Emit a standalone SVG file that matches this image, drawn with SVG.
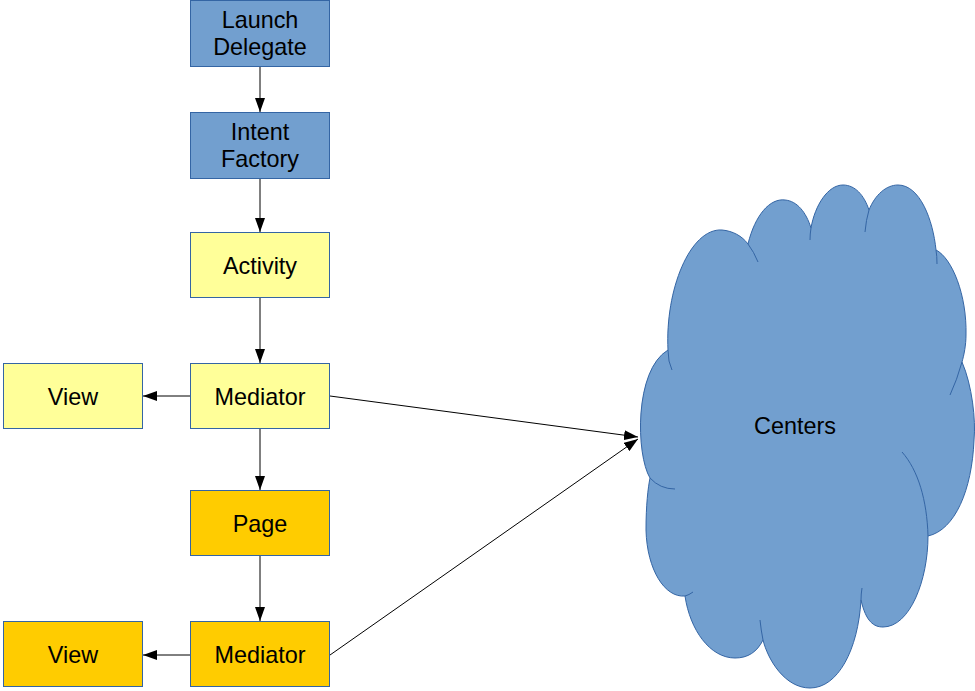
<svg xmlns="http://www.w3.org/2000/svg" width="975" height="691" viewBox="0 0 975 691">
<style>
text{font-family:"Liberation Sans",Arial,sans-serif;font-size:23.4px;fill:#000;text-anchor:middle}
.box{stroke:#3465a4;stroke-width:1}
.blue{fill:#729fcf}
.yellow{fill:#ffff99}
.orange{fill:#ffcc00}
.edge{stroke:#000;stroke-width:1;fill:none;marker-end:url(#ah)}
.cloud{fill:#729fcf;stroke:#3465a4;stroke-width:1}
.inner{fill:none;stroke:#3465a4;stroke-width:1}
</style>
<defs>
<marker id="ah" markerUnits="userSpaceOnUse" markerWidth="14" markerHeight="10" refX="14" refY="5" orient="auto">
<path d="M0,0 L14,5 L0,10 Z" fill="#000"/>
</marker>
</defs>
<rect width="975" height="691" fill="#fff"/>
<g id="connectors">
<line class="edge" x1="260" y1="66" x2="260" y2="112"/>
<line class="edge" x1="260" y1="178" x2="260" y2="232"/>
<line class="edge" x1="260" y1="298" x2="260" y2="363"/>
<line class="edge" x1="260" y1="429" x2="260" y2="490"/>
<line class="edge" x1="260" y1="556" x2="260" y2="621"/>
<line class="edge" x1="190" y1="396" x2="143" y2="396"/>
<line class="edge" x1="190" y1="655" x2="143" y2="655"/>
<line class="edge" x1="330" y1="396" x2="638" y2="437"/>
<line class="edge" x1="330" y1="655" x2="638" y2="439"/>
</g>
<g id="launch-delegate">
<rect class="box blue" x="190.5" y="0.5" width="139" height="66"/>
<text x="260" y="28">Launch</text>
<text x="260" y="55">Delegate</text>
</g>
<g id="intent-factory">
<rect class="box blue" x="190.5" y="112.5" width="139" height="66"/>
<text x="260" y="140">Intent</text>
<text x="260" y="167">Factory</text>
</g>
<g id="activity">
<rect class="box yellow" x="190.5" y="232.5" width="139" height="65"/>
<text x="260" y="274">Activity</text>
</g>
<g id="mediator-1">
<rect class="box yellow" x="190.5" y="363.5" width="139" height="65"/>
<text x="260" y="405">Mediator</text>
</g>
<g id="view-1">
<rect class="box yellow" x="3.5" y="363.5" width="139" height="65"/>
<text x="73" y="405">View</text>
</g>
<g id="page">
<rect class="box orange" x="190.5" y="490.5" width="139" height="65"/>
<text x="260" y="532">Page</text>
</g>
<g id="mediator-2">
<rect class="box orange" x="190.5" y="621.5" width="139" height="65"/>
<text x="260" y="663">Mediator</text>
</g>
<g id="view-2">
<rect class="box orange" x="3.5" y="621.5" width="139" height="65"/>
<text x="73" y="663">View</text>
</g>
<g id="centers">
<path class="cloud" d="M650,478 C636,455 634,370 668,350 C665,290 690,228 722,230 C733,231 742,236 748,244 C755,215 770,198 785,200 C797,201 806,212 811,228 C815,205 828,185 843,185 C855,185 864,195 869,210 C875,195 886,185 898,185 C920,185 933,220 936,250 C952,258 967,295 966,335 C966,345 964,355 962,362 C972,385 976,420 974,440 C972,490 955,530 928,536 C928,580 910,627 883,627 C874,627 866,622 861,600 C858,650 838,688 810,688 C785,688 768,660 763,640 C757,652 748,658 735,658 C710,658 690,630 685,596 C665,598 647,570 646,530 C646,505 648,488 650,478 Z"/>
<path class="inner" d="M650,478 Q660,489 675,489"/>
<path class="inner" d="M668,350 Q668,362 672,370"/>
<path class="inner" d="M748,244 Q754,252 758,262"/>
<path class="inner" d="M811,228 Q810,234 810,240"/>
<path class="inner" d="M869,210 Q866,220 865,232"/>
<path class="inner" d="M936,250 Q937,256 937,264"/>
<path class="inner" d="M962,362 Q957,380 950,395"/>
<path class="inner" d="M928,536 C927,500 918,470 902,452"/>
<path class="inner" d="M861,600 Q861,594 862,588"/>
<path class="inner" d="M763,640 Q761,630 760,620"/>
<path class="inner" d="M685,596 Q689,595 693,592"/>
<text x="795" y="434">Centers</text>
</g>
</svg>
